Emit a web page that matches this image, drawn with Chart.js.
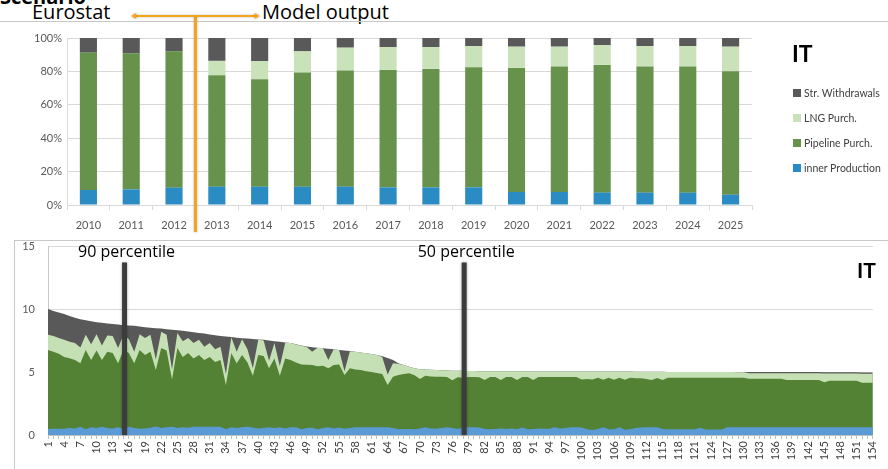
<!DOCTYPE html>
<html>
<head>
<meta charset="utf-8">
<script src="https://cdn.jsdelivr.net/npm/chart.js"></script>
<style>
  html, body { margin: 0; padding: 0; background: #fff; }
  body { position: relative; width: 888px; height: 469px; overflow: hidden; font-family: Lato, sans-serif; }
  canvas { position: absolute; left: 0; }
  .rule { position: absolute; background: #c8c8c8; }
  .big { position: absolute; font-family: "Open Sans", sans-serif; font-size: 20px; line-height: 20px; color: #000; white-space: nowrap; }
  .country { position: absolute; font-family: "Liberation Sans Narrow", Lato, sans-serif; font-weight: bold; color: #000; white-space: nowrap; }
  #legend { position: absolute; left: 793px; top: 87px; }
  .item { display: flex; align-items: center; height: 12px; margin-bottom: 13px; font: 10.5px Lato, sans-serif; color: #404040; white-space: nowrap; }
  .swatch { width: 8px; height: 8px; margin-right: 3px; }
</style>
</head>
<body>
<div class="big" style="left:0;top:-13px;font-weight:bold">Scenario</div>
<div class="big" style="left:32px;top:2px">Eurostat</div>
<div class="big" style="left:262px;top:2px">Model output</div>
<div class="rule" style="left:0;top:21px;width:888px;height:1px"></div>
<div class="rule" style="left:14px;top:240px;width:874px;height:1px"></div>
<div class="rule" style="left:14px;top:240px;width:1px;height:229px"></div>

<canvas id="shares" width="888" height="240" style="top:0"></canvas>
<canvas id="cases" width="888" height="229" style="top:240px"></canvas>

<div id="legend"></div>
<div class="country" style="left:792px;top:42px;font-size:23px;line-height:23px">IT</div>
<div class="country" style="left:857px;top:259px;font-size:21px;line-height:21px">IT</div>

<script>
// ---- Supply mix by year (share of total, %) ----
const years = ['2010','2011','2012','2013','2014','2015','2016','2017','2018','2019','2020','2021','2022','2023','2024','2025'];
const shareInner    = [9.0, 9.4, 10.4, 11.0, 11.0, 11.0, 11.0, 10.6, 10.6, 10.6, 7.8, 7.8, 7.4, 7.4, 7.4, 6.2];
const sharePipeline = [82.2, 81.4, 81.6, 66.7, 64.3, 68.3, 69.5, 70.3, 70.9, 71.9, 74.3, 75.1, 76.5, 75.5, 75.5, 73.9];
const shareLng      = [0, 0, 0, 8.6, 10.8, 12.7, 13.7, 13.7, 13.1, 12.7, 12.7, 11.9, 11.9, 12.3, 12.3, 14.7];
const shareStorage  = [8.8, 9.2, 8.0, 13.7, 13.9, 8.0, 5.8, 5.4, 5.4, 4.8, 5.2, 5.2, 4.2, 4.8, 4.8, 5.2];
const yPercentTicks = [0, 20, 40, 60, 80, 100];

const seriesNames = ['inner Production', 'Pipeline Purch.', 'LNG Purch.', 'Str. Withdrawals'];
const barColors   = ['#2b8bc3', '#66924b', '#c9e2b9', '#595959'];
const areaColors  = ['#5b9bd5', '#548235', '#c5e0b4', '#595959'];

// ---- Supply by simulated case ----
const caseNumbers = ['1','2','3','4','5','6','7','8','9','10','11','12','13','14','15','16','17','18','19','20',
  '21','22','23','24','25','26','27','28','29','30','31','32','33','34','35','36','37','38','39','40',
  '41','42','43','44','45','46','47','48','49','50','51','52','53','54','55','56','57','58','59','60',
  '61','62','63','64','65','66','67','68','69','70','71','72','73','74','75','76','77','78','79','80',
  '81','82','83','84','85','86','87','88','89','90','91','92','93','94','95','96','97','98','99','100',
  '101','102','103','104','105','106','107','108','109','110','111','112','113','114','115','116','117','118','119','120',
  '121','122','123','124','125','126','127','128','129','130','131','132','133','134','135','136','137','138','139','140',
  '141','142','143','144','145','146','147','148','149','150','151','152','153','154'];

const caseInner = [
  0.48,0.50,0.50,0.50,0.55,0.52,0.66,0.45,0.62,0.55,
  0.65,0.55,0.52,0.62,0.50,0.65,0.55,0.50,0.52,0.58,
  0.68,0.55,0.62,0.65,0.55,0.62,0.58,0.65,0.65,0.65,
  0.65,0.65,0.65,0.45,0.62,0.55,0.62,0.65,0.60,0.52,
  0.55,0.62,0.55,0.62,0.52,0.62,0.62,0.45,0.55,0.58,
  0.45,0.55,0.62,0.52,0.60,0.50,0.55,0.62,0.62,0.62,
  0.62,0.62,0.62,0.62,0.55,0.45,0.48,0.48,0.45,0.52,
  0.62,0.52,0.50,0.55,0.62,0.55,0.48,0.62,0.62,0.62,
  0.60,0.48,0.45,0.48,0.52,0.48,0.52,0.45,0.60,0.45,
  0.48,0.52,0.50,0.50,0.62,0.52,0.55,0.62,0.62,0.60,
  0.45,0.40,0.48,0.62,0.45,0.45,0.62,0.42,0.45,0.55,
  0.60,0.62,0.62,0.62,0.48,0.45,0.45,0.45,0.45,0.45,
  0.45,0.58,0.43,0.43,0.43,0.43,0.61,0.61,0.61,0.61,
  0.61,0.61,0.61,0.61,0.61,0.61,0.61,0.61,0.61,0.61,
  0.61,0.61,0.61,0.61,0.61,0.61,0.61,0.61,0.61,0.61,
  0.61,0.61,0.61,0.61];
const casePipeline = [
  6.27,6.10,5.95,5.70,5.55,5.43,5.03,6.30,5.33,6.15,
  5.30,6.05,5.98,5.07,6.25,5.85,5.14,6.25,5.83,6.02,
  4.48,6.35,6.08,3.75,6.35,5.58,5.92,5.43,5.70,5.30,
  5.55,5.15,5.30,3.52,5.88,5.14,5.73,5.10,4.10,5.83,
  5.72,4.67,5.53,4.08,5.56,5.33,5.13,5.15,5.03,4.98,
  5.00,4.95,4.67,5.04,5.00,4.26,4.74,4.58,4.54,4.43,
  4.38,4.30,4.23,3.35,4.08,4.31,4.37,4.42,4.30,3.93,
  4.08,4.13,4.13,4.08,3.98,3.80,4.10,3.93,3.98,3.98,
  3.98,3.89,4.15,4.12,3.85,4.12,4.08,3.92,4.00,4.15,
  3.89,4.08,4.10,4.10,3.98,4.08,4.05,3.98,3.98,3.80,
  4.00,4.00,4.07,3.76,4.10,3.93,3.93,3.96,4.10,3.95,
  3.90,3.83,3.75,3.90,3.89,4.10,4.10,4.10,4.10,4.10,
  4.10,3.97,4.12,4.12,4.12,4.12,3.94,3.94,3.94,3.94,
  3.86,3.86,3.86,3.86,3.86,3.86,3.86,3.76,3.76,3.76,
  3.76,3.76,3.76,3.76,3.57,3.70,3.70,3.70,3.70,3.70,
  3.70,3.54,3.54,3.54];
const caseLng = [
  1.20,1.25,1.25,1.35,1.30,1.35,1.26,1.20,1.25,1.30,
  1.15,1.30,1.35,1.21,1.20,1.10,0.91,1.25,1.35,1.35,
  0.84,1.30,1.25,0.80,1.20,1.25,1.20,1.22,1.20,1.05,
  1.10,1.00,1.05,0.88,1.25,0.91,1.25,1.05,0.60,1.20,
  1.23,0.61,1.22,0.75,1.22,1.35,1.43,1.48,1.40,1.04,
  1.47,1.38,0.66,1.24,1.15,0.29,1.36,1.40,1.39,1.43,
  1.42,1.43,1.35,0.83,1.07,0.89,0.70,0.52,0.55,0.77,
  0.50,0.53,0.53,0.51,0.52,0.75,0.52,0.55,0.47,0.47,
  0.48,0.69,0.46,0.46,0.68,0.45,0.45,0.68,0.45,0.45,
  0.67,0.44,0.44,0.44,0.44,0.44,0.44,0.44,0.44,0.63,
  0.58,0.63,0.48,0.65,0.48,0.65,0.48,0.65,0.48,0.52,
  0.52,0.57,0.65,0.50,0.65,0.45,0.45,0.45,0.45,0.45,
  0.45,0.45,0.45,0.45,0.45,0.45,0.45,0.45,0.44,0.44,
  0.43,0.43,0.43,0.43,0.43,0.43,0.43,0.53,0.53,0.53,
  0.53,0.53,0.53,0.53,0.70,0.57,0.57,0.57,0.57,0.57,
  0.57,0.72,0.72,0.72];
const caseStorage = [
  2.05,2.00,2.02,2.05,2.05,2.00,2.23,1.15,1.82,0.95,
  1.80,0.95,0.95,1.86,0.77,1.10,2.07,0.62,0.86,0.57,
  2.48,0.25,0.45,3.16,0.22,0.83,0.52,0.86,0.55,1.05,
  0.68,1.12,0.86,2.97,0.03,1.12,0.08,0.85,2.32,0.03,
  0.05,1.60,0.15,1.95,0.05,0.00,0.02,0.02,0.04,0.37,
  0.01,0.01,0.90,0.00,0.00,1.65,0.01,0.00,0.00,0.00,
  0.00,0.00,0.05,1.32,0.25,0.05,0.00,0.00,0.00,0.00,
  0.00,0.00,0.00,0.00,0.00,0.00,0.00,0.00,0.00,0.00,
  0.00,0.00,0.00,0.00,0.00,0.00,0.00,0.00,0.00,0.00,
  0.00,0.00,0.00,0.00,0.00,0.00,0.00,0.00,0.00,0.00,
  0.00,0.00,0.00,0.00,0.00,0.00,0.00,0.00,0.00,0.00,
  0.00,0.00,0.00,0.00,0.00,0.00,0.00,0.00,0.00,0.00,
  0.00,0.00,0.00,0.00,0.00,0.00,0.00,0.00,0.00,0.00,
  0.10,0.10,0.10,0.10,0.10,0.10,0.10,0.10,0.10,0.10,
  0.10,0.10,0.10,0.10,0.10,0.10,0.10,0.10,0.10,0.10,
  0.10,0.10,0.10,0.10];
const yCaseTicks = [0, 5, 10, 15];

// percentile markers: position on the case axis (0-based) and label
const percentileNames = ['90 percentile', '50 percentile'];
const percentileAt    = [14.2, 77.2];

const tickFont = { family: 'Lato, sans-serif', size: 11 };

// ---- legend (series listed top-down, storage first) ----
const legend = document.getElementById('legend');
for (let i = seriesNames.length - 1; i >= 0; i--) {
  const row = document.createElement('div');
  row.className = 'item';
  const sw = document.createElement('span');
  sw.className = 'swatch';
  sw.style.background = barColors[i];
  row.appendChild(sw);
  row.appendChild(document.createTextNode(seriesNames[i]));
  legend.appendChild(row);
}

// Orange divider between historical and modelled years, with a double arrow
const splitMarker = {
  id: 'splitMarker',
  afterDraw(chart) {
    const { ctx, scales: { x }, chartArea } = chart;
    const xs = x.getPixelForValue(2.5);
    const xl = x.getPixelForValue(1);
    const xr = x.getPixelForValue(4);
    const yTop = chartArea.top - 22;
    ctx.save();
    ctx.strokeStyle = '#f5a21c';
    ctx.fillStyle = '#f5a21c';
    ctx.shadowColor = 'rgba(0,0,0,0.25)';
    ctx.shadowBlur = 3;
    ctx.lineWidth = 3;
    ctx.beginPath();
    ctx.moveTo(xs, yTop);
    ctx.lineTo(xs, chartArea.bottom + 27);
    ctx.stroke();
    ctx.lineWidth = 2;
    ctx.beginPath();
    ctx.moveTo(xl + 2, yTop);
    ctx.lineTo(xr - 2, yTop);
    ctx.stroke();
    ctx.beginPath();
    ctx.moveTo(xl, yTop); ctx.lineTo(xl + 5, yTop - 3); ctx.lineTo(xl + 5, yTop + 3); ctx.closePath();
    ctx.moveTo(xr, yTop); ctx.lineTo(xr - 5, yTop - 3); ctx.lineTo(xr - 5, yTop + 3); ctx.closePath();
    ctx.fill();
    ctx.restore();
  }
};

new Chart(document.getElementById('shares'), {
  type: 'bar',
  data: {
    labels: years,
    datasets: [shareInner, sharePipeline, shareLng, shareStorage].map((d, i) => ({
      label: seriesNames[i],
      data: d,
      backgroundColor: barColors[i],
      borderWidth: 0,
      barPercentage: 0.4,
      categoryPercentage: 1.0
    }))
  },
  options: {
    responsive: false,
    animation: false,
    devicePixelRatio: 1,
    layout: { padding: { left: 0, right: 136, top: 38, bottom: 0 } },
    plugins: { legend: { display: false }, tooltip: { enabled: false } },
    scales: {
      x: {
        stacked: true,
        grid: { offset: true, drawOnChartArea: false, tickLength: 5, color: '#d9d9d9' },
        border: { color: '#d9d9d9' },
        ticks: { font: tickFont, color: '#595959', padding: 9, maxRotation: 0 },
        afterFit: s => { s.height = 35; }
      },
      y: {
        stacked: true,
        min: 0, max: 100,
        afterBuildTicks: s => { s.ticks = yPercentTicks.map(v => ({ value: v })); },
        ticks: { font: tickFont, color: '#595959', padding: 5, callback: v => v + '%' },
        grid: { color: '#d9d9d9', drawTicks: false },
        border: { color: '#d9d9d9' },
        afterFit: s => { s.width = 67; }
      }
    }
  },
  plugins: [splitMarker]
});

// Percentile markers drawn as thick vertical bars with a caption
const percentileMarkers = {
  id: 'percentileMarkers',
  afterDatasetsDraw(chart) {
    const { ctx, scales: { x, y } } = chart;
    ctx.save();
    percentileAt.forEach((pos, i) => {
      const px = x.getPixelForValue(pos);
      ctx.strokeStyle = '#3c3c3c';
      ctx.lineWidth = 5;
      ctx.shadowColor = 'rgba(0,0,0,0.35)';
      ctx.shadowBlur = 3;
      ctx.beginPath();
      ctx.moveTo(px, y.getPixelForValue(0));
      ctx.lineTo(px, y.getPixelForValue(13.7));
      ctx.stroke();
      ctx.shadowBlur = 0;
      ctx.fillStyle = '#000';
      ctx.font = '16px "Open Sans", sans-serif';
      ctx.textAlign = 'center';
      ctx.textBaseline = 'alphabetic';
      ctx.fillText(percentileNames[i], px + 2, y.getPixelForValue(14.1));
    });
    ctx.restore();
  }
};

new Chart(document.getElementById('cases'), {
  type: 'line',
  data: {
    labels: caseNumbers,
    datasets: [caseInner, casePipeline, caseLng, caseStorage].map((d, i) => ({
      label: seriesNames[i],
      data: d,
      backgroundColor: areaColors[i],
      borderWidth: 0,
      pointRadius: 0,
      tension: 0,
      fill: 'origin'
    }))
  },
  options: {
    responsive: false,
    animation: false,
    devicePixelRatio: 1,
    layout: { padding: { left: 0, right: 12, top: 6, bottom: 0 } },
    plugins: { legend: { display: false }, tooltip: { enabled: false } },
    scales: {
      x: {
        grid: { drawOnChartArea: false, tickLength: 4, color: '#bfbfbf' },
        border: { color: '#bfbfbf' },
        ticks: {
          autoSkip: false, maxRotation: 90, minRotation: 90, padding: 2,
          font: tickFont, color: '#404040',
          callback: (v, i) => (i % 3 === 0 ? caseNumbers[i] : '')
        },
        afterFit: s => { s.height = 34; }
      },
      y: {
        stacked: true,
        min: 0, max: 15,
        afterBuildTicks: s => { s.ticks = yCaseTicks.map(v => ({ value: v })); },
        ticks: { font: { family: 'Lato, sans-serif', size: 11, lineHeight: 1 }, color: '#595959', padding: 0 },
        grid: { color: '#d9d9d9', drawTicks: true, tickLength: 13, tickColor: 'rgba(0,0,0,0)' },
        border: { color: '#c8c8c8' },
        afterFit: s => { s.width = 48; }
      }
    }
  },
  plugins: [percentileMarkers]
});
</script>
</body>
</html>
